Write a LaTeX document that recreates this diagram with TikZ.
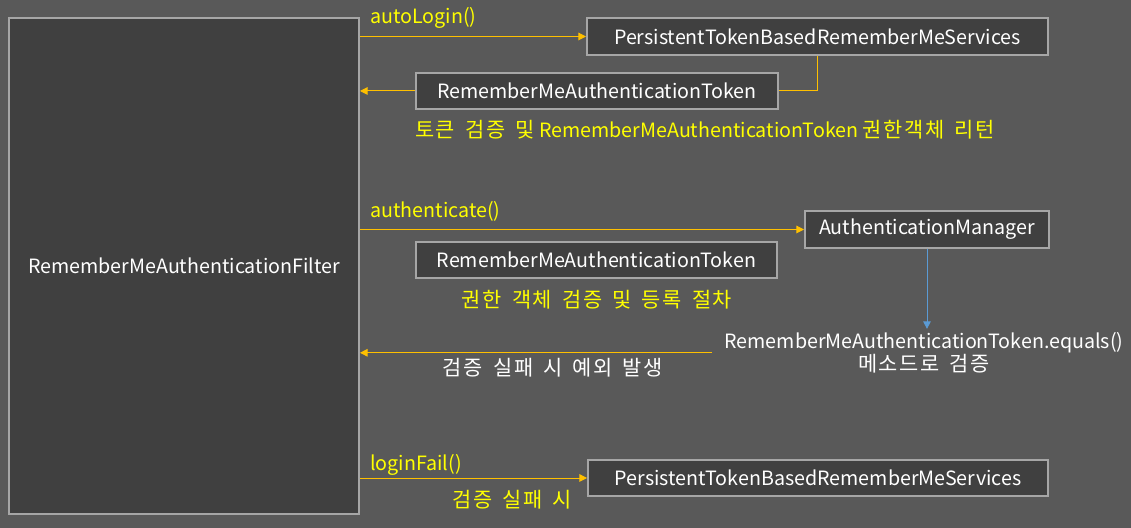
\documentclass[tikz,border=0pt]{standalone}
\usepackage{fontspec}
\setmainfont{Noto Sans CJK KR}
\newfontfamily\kr[Scale=1.06,LetterSpace=8,WordSpace=1.6]{Noto Sans CJK KR}
\usetikzlibrary{arrows.meta}
\definecolor{bgc}{HTML}{595959}
\definecolor{boxc}{HTML}{404040}
\definecolor{linec}{HTML}{A6A6A6}
\definecolor{orc}{HTML}{FFC000}
\definecolor{yelc}{HTML}{FFFF00}
\definecolor{bluec}{HTML}{5B9BD5}
\begin{document}
\begin{tikzpicture}[
  cls/.style={draw=linec, line width=1.4pt, fill=boxc, text=white, inner sep=0pt, font=\fontsize{14}{17}\selectfont},
  call/.style={orc, line width=0.7pt, -{Triangle[length=1.9mm,width=1.9mm]}},
  msg/.style={text=yelc, inner sep=0pt, font=\fontsize{14}{17}\selectfont},
  note/.style={text=white, inner sep=0pt, font=\fontsize{14}{17}\selectfont}]
\fill[bgc] (0,0) rectangle (28.275,13.2);
\node[cls, minimum width=8.75cm, minimum height=12.4cm] (filter) at (4.6,6.55) {RememberMeAuthenticationFilter};
\node[cls, minimum width=11.525cm, minimum height=0.925cm] (ptb1) at (20.4375,12.2875) {PersistentTokenBasedRememberMeServices};
\node[cls, minimum width=9.05cm, minimum height=0.9cm] (rmat1) at (14.925,10.925) {RememberMeAuthenticationToken};
\node[cls, minimum width=6.1cm, minimum height=0.925cm] (am) at (23.175,7.4625) {AuthenticationManager};
\node[cls, minimum width=9.025cm, minimum height=0.9cm] (rmat2) at (14.9125,6.7) {RememberMeAuthenticationToken};
\node[cls, minimum width=11.5cm, minimum height=0.9cm] (ptb2) at (20.45,1.25) {PersistentTokenBasedRememberMeServices};
\node[msg, anchor=west] (lbl1) at (9.25,12.75) {autoLogin()};
\node[msg] (msg1) at (17.625,9.95) {{\kr 토큰 검증 및}\ RememberMeAuthenticationToken\ {\kr 권한객체 리턴}};
\node[msg, anchor=west] (lbl2) at (9.25,7.925) {authenticate()};
\node[msg] (msg2) at (14.925,5.7) {\kr 권한 객체 검증 및 등록 절차};
\node[note, align=center] (equals) at (23.1,4.38) {RememberMeAuthenticationToken.equals()\\[0pt]{\kr 메소드로 검증}};
\node[note] (fail) at (13.825,4.0) {\kr 검증 실패 시 예외 발생};
\node[msg, anchor=west] (lbl3) at (9.25,1.575) {loginFail()};
\node[msg] (msg3) at (12.8,0.7) {\kr 검증 실패 시};
\coordinate (fstart) at ([xshift=-0.3cm]equals.west);
\draw[call] (filter.east |- ptb1.west) -- (ptb1.west);
\draw[orc, line width=0.7pt] (ptb1.south) |- (rmat1.east);
\draw[call] (rmat1.west) -- (rmat1.west -| filter.east);
\draw[call] (filter.east |- am.west) -- (am.west);
\draw[bluec, line width=0.7pt, -{Triangle[length=1.9mm,width=1.9mm]}] (am.south) -- ([yshift=2pt]equals.north -| am.south);
\draw[call] (fstart) -- (fstart -| filter.east);
\draw[call] (filter.east |- ptb2.west) -- (ptb2.west);
\end{tikzpicture}
\end{document}
